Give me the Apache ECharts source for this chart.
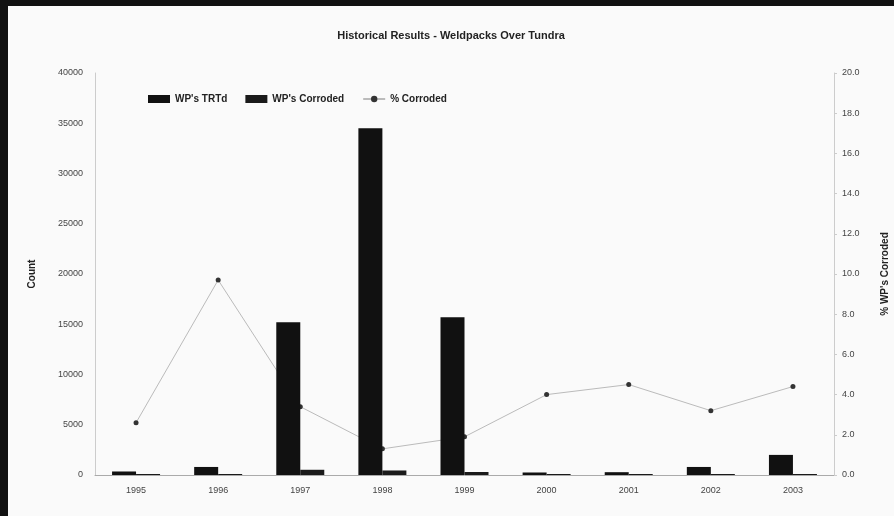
<!DOCTYPE html>
<html>
<head>
<meta charset="utf-8">
<script src="https://cdn.jsdelivr.net/npm/echarts@6/dist/echarts.min.js"></script>
<style>
    html, body { margin: 0; padding: 0; background: #111; }
    #chart {
        width: 886px;
        height: 510px;
        margin-left: 8px;
        margin-top: 6px;
        background: #fafafa;
    }
</style>
</head>
<body>
<div id="chart"></div>
<script>
// 年份
var years = ['1995', '1996', '1997', '1998', '1999', '2000', '2001', '2002', '2003'];
// WP's TRTd
var treated = [350, 800, 15200, 34500, 15700, 250, 280, 800, 2000];
// WP's Corroded
var corroded = [10, 80, 520, 450, 300, 10, 12, 25, 90];
// % Corroded
var pctCorroded = [2.6, 9.7, 3.4, 1.3, 1.9, 4.0, 4.5, 3.2, 4.4];

var chart = echarts.init(document.getElementById('chart'));

var option = {
    backgroundColor: '#fafafa',
    animation: false,
    textStyle: {
        fontFamily: 'Liberation Sans, Arial, sans-serif'
    },
    title: {
        text: 'Historical Results - Weldpacks Over Tundra',
        left: 'center',
        top: 19,
        textStyle: {
            fontSize: 11,
            fontWeight: 'bold',
            color: '#222'
        }
    },
    legend: {
        left: 135,
        top: 83,
        itemWidth: 22,
        itemHeight: 8,
        itemGap: 18,
        textStyle: {
            fontSize: 10,
            fontWeight: 'bold',
            color: '#222'
        },
        data: [
            { name: "WP's TRTd", icon: 'rect' },
            { name: "WP's Corroded", icon: 'rect' },
            { name: '% Corroded' }
        ]
    },
    grid: {
        left: 87,
        right: 60,
        top: 67,
        bottom: 41,
        containLabel: false,
        outerBoundsMode: 'none'
    },
    xAxis: {
        type: 'category',
        data: years,
        axisLine: { lineStyle: { color: '#aaa' } },
        axisTick: { show: false },
        axisLabel: {
            fontSize: 9,
            color: '#444',
            margin: 11
        }
    },
    yAxis: [{
        type: 'value',
        name: 'Count',
        nameLocation: 'middle',
        nameRotate: 90,
        nameGap: 58,
        nameTextStyle: {
            fontSize: 10,
            fontWeight: 'bold',
            color: '#222'
        },
        min: 0,
        max: 40000,
        interval: 5000,
        splitLine: { show: false },
        axisLine: { show: true, lineStyle: { color: '#ccc' } },
        axisTick: { show: false },
        axisLabel: {
            fontSize: 9,
            color: '#444',
            margin: 12,
            formatter: function (v) {
                return String(v);
            }
        }
    }, {
        type: 'value',
        name: "% WP's Corroded",
        nameLocation: 'middle',
        nameRotate: 90,
        nameGap: 46,
        nameTextStyle: {
            fontSize: 10,
            fontWeight: 'bold',
            color: '#222'
        },
        min: 0,
        max: 20,
        interval: 2,
        splitLine: { show: false },
        axisLine: { show: true, lineStyle: { color: '#ccc' } },
        axisTick: { show: true, length: 3, inside: false, lineStyle: { color: '#ccc' } },
        axisLabel: {
            fontSize: 9,
            color: '#444',
            margin: 8,
            formatter: function (v) {
                return v.toFixed(1);
            }
        }
    }],
    series: [{
        name: "WP's TRTd",
        type: 'bar',
        z: 3,
        barWidth: 24,
        barGap: '0%',
        itemStyle: { color: '#111' },
        data: treated
    }, {
        name: "WP's Corroded",
        type: 'bar',
        z: 3,
        barWidth: 24,
        barMinHeight: 1,
        itemStyle: { color: '#1a1a1a' },
        data: corroded
    }, {
        name: '% Corroded',
        type: 'line',
        z: 2,
        yAxisIndex: 1,
        symbol: 'circle',
        symbolSize: 5,
        itemStyle: { color: '#333' },
        lineStyle: { color: '#bbb', width: 1 },
        data: pctCorroded
    }]
};
chart.setOption(option);
</script>
</body>
</html>
